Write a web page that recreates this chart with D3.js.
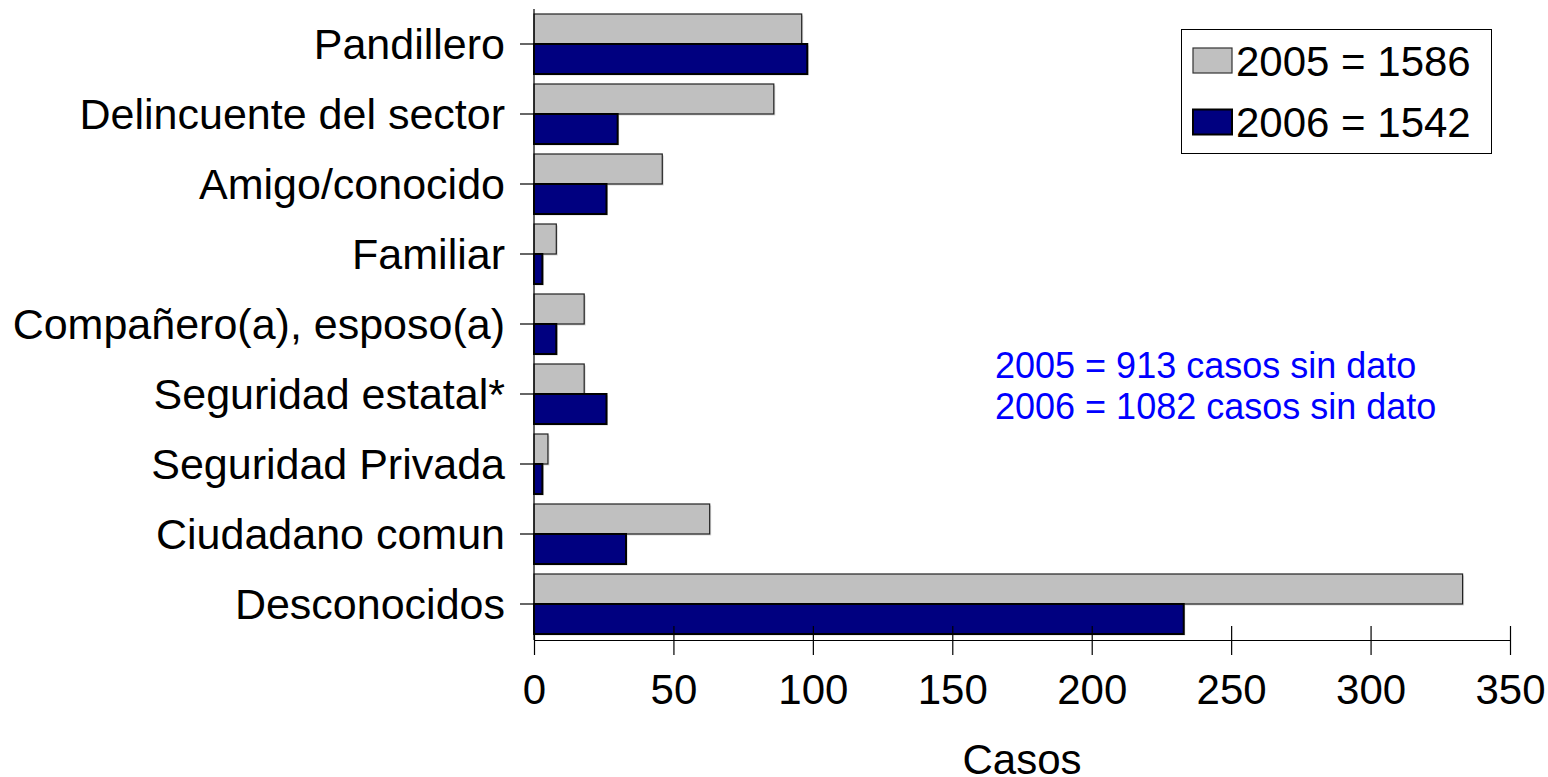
<!DOCTYPE html>
<html>
<head>
<meta charset="utf-8">
<script src="https://cdn.jsdelivr.net/npm/d3@7"></script>
<style>
  html, body { margin: 0; padding: 0; background: #fff; }
  svg { display: block; }
  text { font-family: "Liberation Sans", Arial, sans-serif; }
</style>
</head>
<body>
<svg id="chart" width="1548" height="777"></svg>
<script>
const categories = ["Pandillero", "Delincuente del sector", "Amigo/conocido", "Familiar",
  "Compañero(a), esposo(a)", "Seguridad estatal*", "Seguridad Privada", "Ciudadano comun", "Desconocidos"];
const values2005 = [96, 86, 46, 8, 18, 18, 5, 63, 333];
const values2006 = [98, 30, 26, 3, 8, 26, 3, 33, 233];
const seriesKeys = ["2005", "2006"];
const seriesLabels = ["2005 = 1586", "2006 = 1542"];
const seriesColors = ["#C0C0C0", "#000080"];
const xTicks = [0, 50, 100, 150, 200, 250, 300, 350];
const xTitle = "Casos";
const notes = ["2005 = 913 casos sin dato", "2006 = 1082 casos sin dato"];

const svg = d3.select("#chart");

const x = d3.scaleLinear().domain([0, 350]).range([534, 1510]);
const y = d3.scaleBand().domain(categories).range([9, 639]).paddingInner(1/7).paddingOuter(1/14);
const ySub = d3.scaleBand().domain(seriesKeys).range([0, y.bandwidth()]);

const rows = categories.map((c, i) => ({cat: c, vals: [values2005[i], values2006[i]]}));

// bars
const g = svg.append("g");
rows.forEach(r => {
  seriesKeys.forEach((k, si) => {
    const y0 = y(r.cat) + ySub(k);
    const w = x(r.vals[si]) - x(0);
    g.append("rect")
      .attr("x", x(0) + 1.5).attr("y", y0 + 1.5)
      .attr("width", w).attr("height", ySub.bandwidth())
      .attr("fill", "#d8d8d8");
    g.append("rect")
      .attr("x", x(0)).attr("y", y0)
      .attr("width", w).attr("height", ySub.bandwidth())
      .attr("fill", seriesColors[si])
      .attr("stroke", si === 0 ? "#222" : "#000")
      .attr("stroke-width", si === 0 ? 1.2 : 2);
  });
});

// x axis
const xAxis = svg.append("g")
  .attr("transform", "translate(0,640)")
  .call(d3.axisBottom(x).tickValues(xTicks).tickSizeOuter(0).tickFormat(d3.format("d")));
xAxis.select(".domain").attr("stroke", "#000").attr("stroke-width", 1.2);
xAxis.selectAll(".tick line").attr("y1", -14).attr("y2", 15).attr("stroke", "#000").attr("stroke-width", 1.2);
xAxis.selectAll(".tick text")
  .attr("y", 64).attr("dy", 0)
  .attr("font-size", 42).attr("fill", "#000")
  .attr("font-family", "Liberation Sans, Arial, sans-serif");

// y axis
const yAxis = svg.append("g")
  .attr("transform", "translate(534,0)")
  .call(d3.axisLeft(y).tickSize(14).tickSizeOuter(0));
yAxis.select(".domain").remove();
yAxis.selectAll(".tick line").attr("stroke", "#000").attr("stroke-width", 1.2);
yAxis.selectAll(".tick text")
  .attr("x", -29).attr("dy", 0).attr("y", 15)
  .attr("font-size", 43).attr("fill", "#000")
  .attr("font-family", "Liberation Sans, Arial, sans-serif");
svg.append("line")
  .attr("x1", x(0)).attr("x2", x(0)).attr("y1", 9).attr("y2", 640)
  .attr("stroke", "#000").attr("stroke-width", 1.2);

// x title
svg.append("text")
  .attr("x", 1022).attr("y", 774)
  .attr("text-anchor", "middle").attr("font-size", 42).attr("fill", "#000")
  .text(xTitle);

// legend
const lg = svg.append("g");
lg.append("rect").attr("x", 1181.5).attr("y", 29.5).attr("width", 310).attr("height", 124)
  .attr("fill", "#fff").attr("stroke", "#000").attr("stroke-width", 1);
seriesLabels.forEach((lab, i) => {
  const cy = 60.5 + i * 61.5;
  lg.append("rect").attr("x", 1193).attr("y", cy - 12.5).attr("width", 39).attr("height", 25)
    .attr("fill", seriesColors[i]).attr("stroke", i === 0 ? "#333" : "#000").attr("stroke-width", i === 0 ? 1.2 : 2);
  lg.append("text")
    .attr("x", 1236).attr("y", cy + 15)
    .attr("font-size", 42).attr("fill", "#000")
    .text(lab);
});

// notes
notes.forEach((t, i) => {
  svg.append("text")
    .attr("x", 995).attr("y", 378 + i * 41)
    .attr("font-size", 36).attr("fill", "#0000FF")
    .text(t);
});
</script>
</body>
</html>
